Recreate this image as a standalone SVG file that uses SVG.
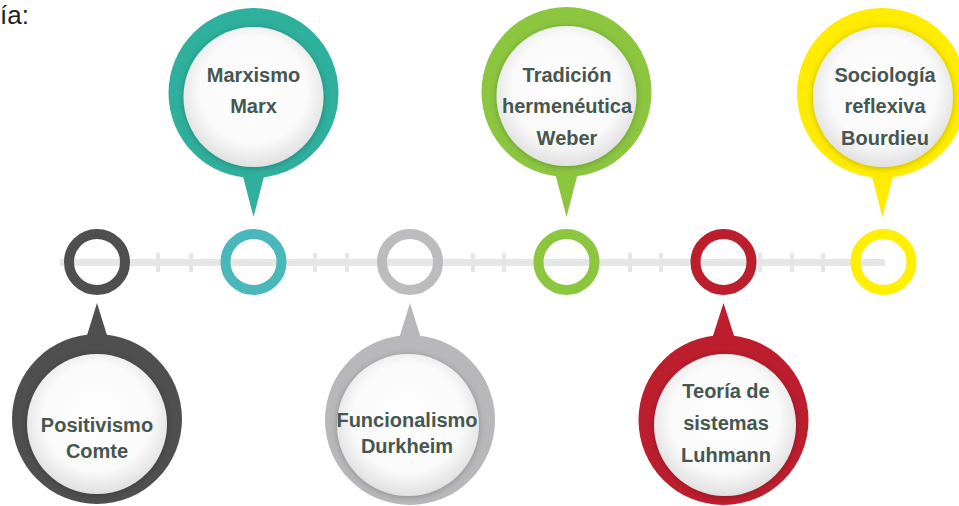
<svg xmlns="http://www.w3.org/2000/svg" width="959" height="506" viewBox="0 0 959 506">
<defs>
<radialGradient id="face" cx="50%" cy="45%" r="55%">
<stop offset="0" stop-color="#ffffff"/>
<stop offset="0.7" stop-color="#fafafa"/>
<stop offset="1" stop-color="#e0e0e0"/>
</radialGradient>
<filter id="inset" x="-20%" y="-20%" width="140%" height="140%">
<feDropShadow dx="0" dy="1" stdDeviation="3" flood-color="#000" flood-opacity="0.25"/>
</filter>
</defs>
<style>
.lbl{font-family:"Liberation Sans",Arial,sans-serif;font-weight:bold;font-size:20px;fill:#465650;text-anchor:middle}
.ring{fill:none;stroke-width:10}
.track{fill:#e6e6e6}
.face{fill:url(#face);filter:url(#inset)}
</style>
<rect width="959" height="506" fill="#ffffff"/>
<text x="0" y="24" font-family="Liberation Sans, Arial, sans-serif" font-size="26" fill="#231f20">ía:</text>

<g id="connectors">
<rect class="track" x="60" y="259" width="825" height="7"/>
<g class="track">
<rect x="156" y="253" width="4" height="19"/>
<rect x="189" y="253" width="4" height="19"/>
<rect x="313" y="253" width="4" height="19"/>
<rect x="345" y="253" width="4" height="19"/>
<rect x="471" y="253" width="4" height="19"/>
<rect x="502" y="253" width="4" height="19"/>
<rect x="628" y="253" width="4" height="19"/>
<rect x="659" y="253" width="4" height="19"/>
<rect x="758" y="253" width="4" height="19"/>
<rect x="790" y="253" width="4" height="19"/>
<rect x="821" y="253" width="4" height="19"/>
</g>
</g>

<g id="node-comte">
<circle class="ring" cx="97" cy="262" r="28" stroke="#504f50" fill="#fff"/>
<polygon points="84,345 110,345 97,303" fill="#504f50"/>
<circle cx="97" cy="419" r="85" fill="#504f50"/>
<circle class="face" cx="97" cy="424" r="70"/>
<text class="lbl" x="97" y="432">Positivismo</text>
<text class="lbl" x="97" y="458">Comte</text>
</g>

<g id="node-marx">
<circle class="ring" cx="253.5" cy="262" r="28" stroke="#4ab8bb" fill="#fff"/>
<polygon points="240,165 267,165 253.5,217" fill="#2eb09d"/>
<circle cx="253.5" cy="93" r="85" fill="#2eb09d"/>
<circle class="face" cx="253.5" cy="97" r="70"/>
<text class="lbl" x="253.5" y="82">Marxismo</text>
<text class="lbl" x="253.5" y="113">Marx</text>
</g>

<g id="node-durkheim">
<circle class="ring" cx="410" cy="262" r="28" stroke="#bcbcbe" fill="#fff"/>
<polygon points="397,345 423,345 410,303" fill="#b8b8ba"/>
<circle cx="410" cy="420" r="85" fill="#b8b8ba"/>
<circle class="face" cx="408" cy="425" r="71"/>
<text class="lbl" x="407" y="427">Funcionalismo</text>
<text class="lbl" x="407" y="453">Durkheim</text>
</g>

<g id="node-weber">
<circle class="ring" cx="566.5" cy="262" r="28" stroke="#8cc63f" fill="#fff"/>
<polygon points="553,165 580,165 566.5,217" fill="#8cc63f"/>
<circle cx="566.5" cy="92" r="85" fill="#8cc63f"/>
<circle class="face" cx="566.5" cy="96" r="70"/>
<text class="lbl" x="567" y="82">Tradición</text>
<text class="lbl" x="567" y="113">hermenéutica</text>
<text class="lbl" x="567" y="145">Weber</text>
</g>

<g id="node-luhmann">
<circle class="ring" cx="723.5" cy="262" r="28" stroke="#bd1e2e" fill="#fff"/>
<polygon points="710,345 737,345 723.5,303" fill="#bd1e2e"/>
<circle cx="723.5" cy="420" r="85" fill="#bd1e2e"/>
<circle class="face" cx="725" cy="425" r="71"/>
<text class="lbl" x="726" y="398">Teoría de</text>
<text class="lbl" x="726" y="430">sistemas</text>
<text class="lbl" x="726" y="462">Luhmann</text>
</g>

<g id="node-bourdieu">
<circle class="ring" cx="883.5" cy="262" r="28" stroke="#fff000" fill="#fff"/>
<polygon points="869,165 896,165 882.5,217" fill="#ffec00"/>
<circle cx="882" cy="93" r="85" fill="#ffec00"/>
<circle class="face" cx="883" cy="97" r="70"/>
<text class="lbl" x="885" y="82">Sociología</text>
<text class="lbl" x="885" y="113">reflexiva</text>
<text class="lbl" x="885" y="145">Bourdieu</text>
</g>
</svg>
